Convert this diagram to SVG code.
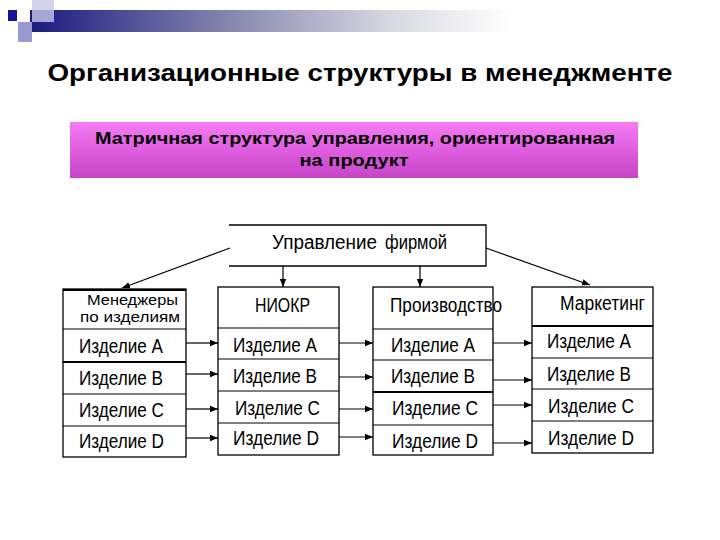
<svg xmlns="http://www.w3.org/2000/svg" width="720" height="540" viewBox="0 0 720 540">
<defs>
<linearGradient id="bar" x1="0" y1="0" x2="1" y2="0">
<stop offset="0" stop-color="#1a1a80"/>
<stop offset="0.4" stop-color="#8282ac"/>
<stop offset="0.75" stop-color="#d8d8e2"/>
<stop offset="1" stop-color="#ffffff"/>
</linearGradient>
<linearGradient id="pink" x1="0" y1="0" x2="0" y2="1">
<stop offset="0" stop-color="#f47cf4"/>
<stop offset="0.5" stop-color="#e05ee0"/>
<stop offset="1" stop-color="#c445c6"/>
</linearGradient>
<marker id="ah" viewBox="0 0 10 10" refX="10" refY="5" markerWidth="8" markerHeight="8" markerUnits="userSpaceOnUse" orient="auto">
<path d="M0,1 L10,5 L0,9 z" fill="#000"/>
</marker>
</defs>
<style>
.t{font-family:"Liberation Sans",Arial,sans-serif;fill:#000}
.row{font-size:21px}
.hd{font-size:20px}
.box{fill:#fff;stroke:#000;stroke-width:1.3}
.dv{stroke:#000;stroke-width:1}
.thk{stroke:#000;stroke-width:2.2}
.con{stroke:#000;stroke-width:1.2;fill:none;marker-end:url(#ah)}
</style>
<rect width="720" height="540" fill="#fff"/>
<g id="decor">
<rect x="30" y="10" width="480" height="22" fill="url(#bar)"/>
<rect x="32" y="0" width="22" height="22" fill="#c8c8e8" opacity="0.8"/>
<rect x="18" y="22" width="14" height="20" fill="#9a9ad2"/>
<rect x="8" y="10" width="9" height="11" fill="#14149a"/>
</g>
<text class="t" x="360" y="81" font-size="24" font-weight="bold" text-anchor="middle" textLength="625" lengthAdjust="spacingAndGlyphs">Организационные структуры в менеджменте</text>
<g id="subtitle">
<rect x="70" y="122" width="568" height="56" fill="url(#pink)"/>
<text class="t" x="355" y="144" font-size="17" font-weight="bold" text-anchor="middle" fill="#1a0a1a" textLength="520" lengthAdjust="spacingAndGlyphs">Матричная структура управления, ориентированная</text>
<text class="t" x="354" y="166" font-size="17" font-weight="bold" text-anchor="middle" fill="#1a0a1a" textLength="109" lengthAdjust="spacingAndGlyphs">на продукт</text>
</g>
<g id="top">
<path d="M229,225 H486 V266 H229" fill="#fff" stroke="#000" stroke-width="1.3"/>
<text class="t" x="272" y="249" font-size="20" textLength="105" lengthAdjust="spacingAndGlyphs">Управление</text>
<text class="t" x="385" y="249" font-size="20" textLength="62" lengthAdjust="spacingAndGlyphs">фирмой</text>
</g>
<g id="col1">
<rect class="box" x="63" y="289" width="123" height="168"/>
<line class="thk" x1="63" y1="290" x2="186" y2="290"/>
<text class="t" x="87" y="305" font-size="15" textLength="91" lengthAdjust="spacingAndGlyphs">Менеджеры</text>
<text class="t" x="80" y="322" font-size="15" textLength="100" lengthAdjust="spacingAndGlyphs">по изделиям</text>
<line class="dv" x1="63" y1="329" x2="186" y2="329"/>
<line class="thk" x1="63" y1="362" x2="186" y2="362"/>
<line class="dv" x1="63" y1="394" x2="186" y2="394"/>
<line class="dv" x1="63" y1="426" x2="186" y2="426"/>
<text class="t row" x="79" y="353" textLength="84" lengthAdjust="spacingAndGlyphs">Изделие A</text>
<text class="t row" x="79" y="385" textLength="84" lengthAdjust="spacingAndGlyphs">Изделие B</text>
<text class="t row" x="79" y="417" textLength="85" lengthAdjust="spacingAndGlyphs">Изделие C</text>
<text class="t row" x="79" y="448" textLength="85" lengthAdjust="spacingAndGlyphs">Изделие D</text>
</g>
<g id="col2">
<rect class="box" x="218" y="287" width="121" height="168"/>
<text class="t hd" x="255" y="312" textLength="55" lengthAdjust="spacingAndGlyphs">НИОКР</text>
<line class="dv" x1="218" y1="328" x2="339" y2="328"/>
<line class="dv" x1="218" y1="359" x2="339" y2="359"/>
<line class="dv" x1="218" y1="391" x2="339" y2="391"/>
<line class="dv" x1="218" y1="423" x2="339" y2="423"/>
<text class="t row" x="233" y="352" textLength="84" lengthAdjust="spacingAndGlyphs">Изделие A</text>
<text class="t row" x="233" y="383" textLength="84" lengthAdjust="spacingAndGlyphs">Изделие B</text>
<text class="t row" x="235" y="415" textLength="85" lengthAdjust="spacingAndGlyphs">Изделие C</text>
<text class="t row" x="233" y="445" textLength="86" lengthAdjust="spacingAndGlyphs">Изделие D</text>
</g>
<g id="col3">
<rect class="box" x="373" y="287" width="120" height="168"/>
<text class="t hd" x="390" y="312" textLength="112" lengthAdjust="spacingAndGlyphs">Производство</text>
<line class="dv" x1="373" y1="329" x2="493" y2="329"/>
<line class="dv" x1="373" y1="360" x2="493" y2="360"/>
<line class="thk" x1="373" y1="392" x2="493" y2="392"/>
<line class="dv" x1="373" y1="425" x2="493" y2="425"/>
<text class="t row" x="391" y="352" textLength="84" lengthAdjust="spacingAndGlyphs">Изделие A</text>
<text class="t row" x="391" y="383" textLength="84" lengthAdjust="spacingAndGlyphs">Изделие B</text>
<text class="t row" x="392" y="415" textLength="86" lengthAdjust="spacingAndGlyphs">Изделие C</text>
<text class="t row" x="392" y="448" textLength="86" lengthAdjust="spacingAndGlyphs">Изделие D</text>
</g>
<g id="col4">
<rect class="box" x="532" y="287" width="121" height="166"/>
<text class="t hd" x="560" y="310" textLength="85" lengthAdjust="spacingAndGlyphs">Маркетинг</text>
<line class="thk" x1="532" y1="326" x2="653" y2="326"/>
<line class="dv" x1="532" y1="358" x2="653" y2="358"/>
<line class="dv" x1="532" y1="389" x2="653" y2="389"/>
<line class="dv" x1="532" y1="421" x2="653" y2="421"/>
<text class="t row" x="547" y="348" textLength="84" lengthAdjust="spacingAndGlyphs">Изделие A</text>
<text class="t row" x="547" y="381" textLength="84" lengthAdjust="spacingAndGlyphs">Изделие B</text>
<text class="t row" x="548" y="413" textLength="86" lengthAdjust="spacingAndGlyphs">Изделие C</text>
<text class="t row" x="548" y="445" textLength="86" lengthAdjust="spacingAndGlyphs">Изделие D</text>
</g>
<g id="connectors">
<line class="con" x1="230" y1="248" x2="122" y2="288"/>
<line class="con" x1="486" y1="248" x2="590" y2="285"/>
<line class="con" x1="283" y1="266" x2="283" y2="287"/>
<line class="con" x1="420" y1="266" x2="420" y2="287"/>
<line class="con" x1="186" y1="343" x2="218" y2="343"/>
<line class="con" x1="186" y1="374" x2="218" y2="374"/>
<line class="con" x1="186" y1="409" x2="218" y2="409"/>
<line class="con" x1="186" y1="438" x2="218" y2="438"/>
<line class="con" x1="339" y1="343" x2="373" y2="343"/>
<line class="con" x1="339" y1="377" x2="373" y2="377"/>
<line class="con" x1="339" y1="409" x2="373" y2="409"/>
<line class="con" x1="339" y1="437" x2="373" y2="437"/>
<line class="con" x1="493" y1="343" x2="532" y2="343"/>
<line class="con" x1="493" y1="380" x2="532" y2="380"/>
<line class="con" x1="493" y1="405" x2="532" y2="405"/>
<line class="con" x1="493" y1="443" x2="532" y2="443"/>
</g>
</svg>
